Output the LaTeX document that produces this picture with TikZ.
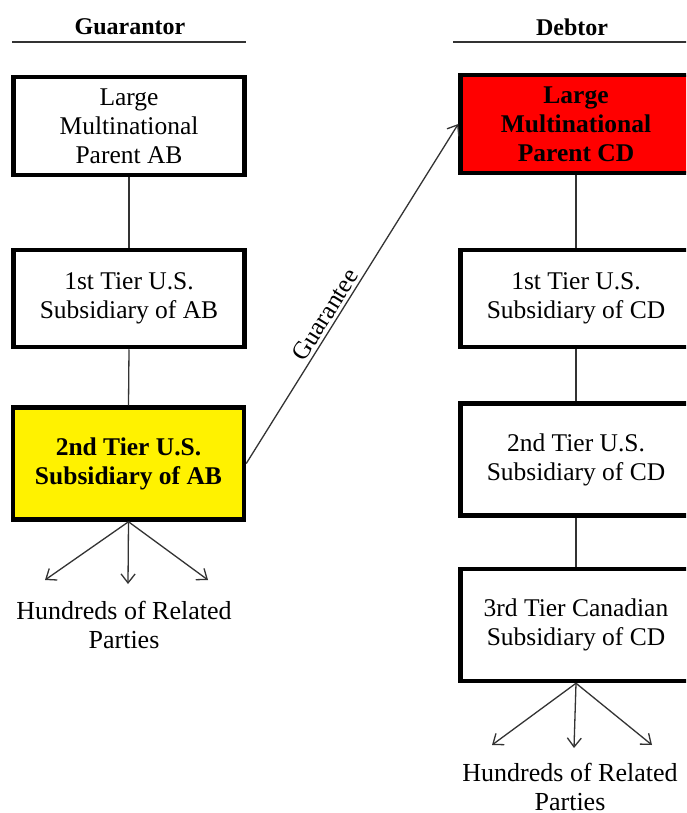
\documentclass[tikz,border=0pt]{standalone}
\usepackage{fontspec}
\setmainfont{Liberation Serif}
\usetikzlibrary{arrows.meta}
\begin{document}
\begin{tikzpicture}[x=1pt,y=-1pt,
  box/.style={draw=black,line width=4.5pt,minimum width=231pt,align=center,inner sep=0pt},
  txt/.style={font=\fontsize{25.5}{29}\selectfont},
  btxt/.style={font=\fontsize{25.5}{29}\selectfont\bfseries},
  ltxt/.style={font=\fontsize{26}{29}\selectfont,inner sep=0pt},
  hdr/.style={font=\fontsize{24}{26}\selectfont\bfseries},
  conn/.style={draw=black!80,line width=1.3pt},
  arr/.style={conn,-{Straight Barb[length=9pt,width=14pt,line width=1.3pt]}}]
\useasboundingbox (0,0) rectangle (686,813);
\clip (0,0) rectangle (686,813);
\fill[white] (0,0) rectangle (686,813);
% headers
\node[hdr] (hg) at (130,27) {Guarantor};
\node[hdr] (hd) at (572,27) {Debtor};
\coordinate (hgl) at (12,42); \coordinate (hgr) at (246,42);
\coordinate (hdl) at (453,42); \coordinate (hdr) at (690,42);
\draw[conn] (hgl) -- (hgr);
\draw[conn] (hdl) -- (hdr);
% left column
\node[box,txt,minimum height=98pt] (a1) at (129,126) {Large\\Multinational\\Parent AB};
\node[box,txt,minimum height=97pt] (a2) at (129,298.5) {1st Tier U.S.\\Subsidiary of AB};
\node[box,btxt,fill=yellow,minimum height=112pt] (a3) at (128.5,463.5) {2nd Tier U.S.\\Subsidiary of AB};
\draw[conn] (a1.south) -- (a2.north);
\draw[conn] (a2.south) -- (a3.north);
\coordinate (la) at (45,580);
\coordinate (lb) at (128,584);
\coordinate (lc) at (208,580);
\draw[arr] (a3.south) -- (la);
\draw[arr] (a3.south) -- (lb);
\draw[arr] (a3.south) -- (lc);
\node[ltxt,align=center] (lt) at (124,625) {Hundreds of Related\\Parties};
% right column
\node[box,btxt,fill=red,minimum height=98pt] (b1) at (576,124) {Large\\Multinational\\Parent CD};
\node[box,txt,minimum height=97pt] (b2) at (576,298.5) {1st Tier U.S.\\Subsidiary of CD};
\node[box,txt,minimum height=112pt] (b3) at (576,459.5) {2nd Tier U.S.\\Subsidiary of CD};
\node[box,txt,minimum height=112pt] (b4) at (576,625) {3rd Tier Canadian\\Subsidiary of CD};
\draw[conn] (b1.south) -- (b2.north);
\draw[conn] (b2.south) -- (b3.north);
\draw[conn] (b3.south) -- (b4.north);
\coordinate (ra) at (492,745);
\coordinate (rb) at (574,748);
\coordinate (rc) at (652,745);
\draw[arr] (b4.south) -- (ra);
\draw[arr] (b4.south) -- (rb);
\draw[arr] (b4.south) -- (rc);
\node[ltxt,align=center] (rt) at (570,787) {Hundreds of Related\\Parties};
% guarantee
\draw[arr] (a3.east) -- node[pos=0.42,above,sloped,font=\fontsize{25}{28}\selectfont,inner sep=3pt] {Guarantee} (b1.west);
\end{tikzpicture}
\end{document}
